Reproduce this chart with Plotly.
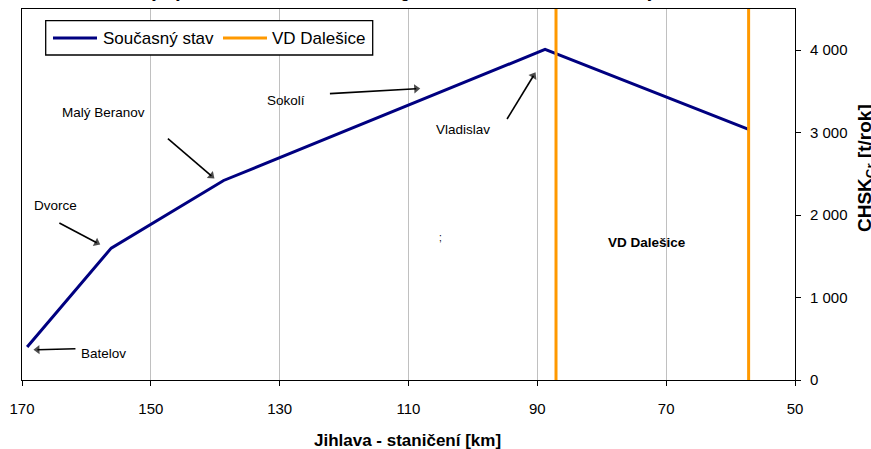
import plotly.graph_objects as go

# River stationing [km] and COD (CHSK_Cr) load [t/rok] – current state
station_km = [169.2, 156.15, 138.7, 88.8, 57.2]
chsk_load = [400, 1600, 2420, 4010, 3040]

# Upper and lower limit of the VD Dalešice reservoir [km]
dam_km = [87.1, 57.2]

x_ticks = [170, 150, 130, 110, 90, 70, 50]
y_ticks = [0, 1000, 2000, 3000, 4000]
y_max = 4500

# Place names along the river, where their text sits and where the arrow points
places = ["Batelov", "Dvorce", "Malý Beranov", "Sokolí", "Vladislav"]
place_text_km = [157.3, 164.8, 157.4, 129.0, 101.6]
place_text_val = [320, 2115, 3240, 3385, 3035]
arrow_tail_km = [161.7, 164.2, 147.35, 122.2, 94.7]
arrow_tail_val = [379, 1904, 2927, 3473, 3166]
arrow_head_km = [167.6, 158.4, 140.6, 108.8, 90.6]
arrow_head_val = [367, 1665, 2476, 3532, 3690]

W, H = 871, 449
L, R, T, B = 22, 76, 9, 69
PW, PH = W - L - R, H - T - B
FONT = "Liberation Sans, Arial, sans-serif"
NAVY = "#000080"
ORANGE = "#FF9900"


def paper_x(px):
    return (px - L) / PW


def paper_y(py):
    return (H - B - py) / PH


fig = go.Figure()

fig.add_trace(go.Scatter(
    x=station_km, y=chsk_load, mode="lines", name="Současný stav",
    line=dict(color=NAVY, width=3), showlegend=False, hoverinfo="skip",
))

dam_x, dam_y = [], []
for k in dam_km:
    dam_x += [k, k, None]
    dam_y += [0, y_max, None]
fig.add_trace(go.Scatter(
    x=dam_x, y=dam_y, mode="lines", name="VD Dalešice",
    line=dict(color=ORANGE, width=3), showlegend=False, hoverinfo="skip",
))

# pointer arrows from each place name towards its station on the line
for tx, ty, hx, hy in zip(arrow_tail_km, arrow_tail_val, arrow_head_km, arrow_head_val):
    fig.add_trace(go.Scatter(
        x=[tx, hx], y=[ty, hy], mode="lines+markers",
        line=dict(color="#000000", width=1.6),
        marker=dict(symbol=["circle", "triangle-up"], size=[0, 8],
                    angleref="previous", color="#000000",
                    line=dict(width=0)),
        showlegend=False, hoverinfo="skip",
    ))

annotations = []

for name, tx, ty in zip(places, place_text_km, place_text_val):
    annotations.append(dict(
        x=tx, y=ty, xref="x", yref="y", text=name, showarrow=False,
        font=dict(family=FONT, size=13.5, color="#000000"),
        xanchor="center", yanchor="middle",
    ))

annotations += [
    dict(x=105.1, y=1726, xref="x", yref="y", text=";", showarrow=False,
         font=dict(family=FONT, size=10, color="#000000")),
    dict(x=73.05, y=1666, xref="x", yref="y", text="<b>VD Dalešice</b>",
         showarrow=False, font=dict(family=FONT, size=13.5, color="#000000")),
    # chart title (sits above the top edge of the page)
    dict(x=paper_x(W / 2), y=1, xref="paper", yref="paper", yanchor="bottom",
         yshift=6, showarrow=False,
         text="<b>Vývoj látkového zatížení z hlediska organického znečištění "
              "na toku Jihlavy – CHSKCr</b>",
         font=dict(family=FONT, size=14.5, color="#000000")),
    # axis titles
    dict(x=paper_x(407), y=0, xref="paper", yref="paper", yshift=-60,
         yanchor="middle", showarrow=False,
         text="<b>Jihlava - staničení [km]</b>",
         font=dict(family=FONT, size=17, color="#000000")),
    dict(x=1, y=paper_y(168), xref="paper", yref="paper", xshift=71,
         textangle=-90, xanchor="center", yanchor="middle", showarrow=False,
         text="<b>CHSK<sub>Cr</sub> [t/rok]</b>",
         font=dict(family=FONT, size=19, color="#000000")),
    # legend entries
    dict(x=paper_x(101), y=paper_y(38), xref="paper", yref="paper",
         xanchor="left", yanchor="middle", showarrow=False,
         text="Současný stav", font=dict(family=FONT, size=17, color="#000000")),
    dict(x=paper_x(270), y=paper_y(38), xref="paper", yref="paper",
         xanchor="left", yanchor="middle", showarrow=False,
         text="VD Dalešice", font=dict(family=FONT, size=17, color="#000000")),
]

shapes = [
    dict(type="rect", xref="paper", yref="paper",
         x0=paper_x(45.7), x1=paper_x(372.7), y0=paper_y(55), y1=paper_y(20.7),
         line=dict(color="#000000", width=1.3), fillcolor="#FFFFFF", layer="above"),
    dict(type="line", xref="paper", yref="paper",
         x0=paper_x(53), x1=paper_x(97), y0=paper_y(38), y1=paper_y(38),
         line=dict(color=NAVY, width=3), layer="above"),
    dict(type="line", xref="paper", yref="paper",
         x0=paper_x(223), x1=paper_x(267), y0=paper_y(38), y1=paper_y(38),
         line=dict(color=ORANGE, width=3), layer="above"),
]

fig.update_layout(
    width=W, height=H,
    margin=dict(l=L, r=R, t=T, b=B, pad=0),
    paper_bgcolor="#FFFFFF", plot_bgcolor="#FFFFFF",
    separators=". ",
    showlegend=False,
    annotations=annotations,
    shapes=shapes,
    font=dict(family=FONT, size=15, color="#000000"),
    xaxis=dict(
        range=[170, 50], tickvals=x_ticks, ticktext=[str(v) for v in x_ticks],
        showgrid=True, gridcolor="#C0C0C0", gridwidth=1,
        showline=True, linecolor="#000000", linewidth=1, mirror=True,
        ticks="outside", ticklen=5, tickcolor="#000000",
        ticklabelstandoff=10, zeroline=False,
        tickfont=dict(family=FONT, size=15, color="#000000"),
    ),
    yaxis=dict(
        range=[0, y_max], tickvals=y_ticks, tickformat=",d", side="right",
        showgrid=False, showline=True, linecolor="#000000", linewidth=1,
        mirror=True, ticks="outside", ticklen=5, tickcolor="#000000",
        ticklabelstandoff=6, zeroline=False,
        tickfont=dict(family=FONT, size=15, color="#000000"),
    ),
)

fig.write_html("out.html")
